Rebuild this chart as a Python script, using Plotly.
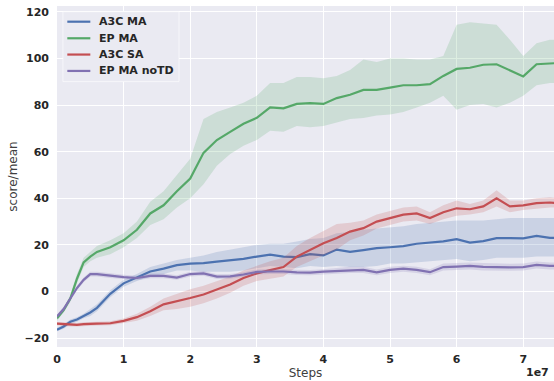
import plotly.graph_objects as go

# Steps (in units of 1e7)
steps_e7 = [0, 0.1, 0.2, 0.3, 0.4, 0.5, 0.6, 0.8, 1.0, 1.2, 1.4, 1.6, 1.8, 2.0, 2.2, 2.4, 2.6, 2.8,
            3.0, 3.2, 3.4, 3.6, 3.8, 4.0, 4.2, 4.4, 4.6, 4.8, 5.0, 5.2, 5.4, 5.6, 5.8, 6.0, 6.2,
            6.4, 6.6, 6.8, 7.0, 7.2, 7.4, 7.5]

a3c_ma_mean = [-16.4, -15, -13, -12, -10.5, -9, -7, -1, 3.5, 6, 8.6, 9.8, 11.3, 12, 12.2, 12.8, 13.3, 14,
               15, 15.8, 15, 14.8, 16, 15.5, 18, 17, 17.8, 18.6, 19, 19.5, 20.5, 21, 21.5, 22.5, 21,
               21.6, 22.9, 22.9, 22.8, 23.9, 23, 23]
a3c_ma_low = [-17, -16, -14, -13, -11.5, -10.5, -8.5, -2.5, 2, 4.5, 6.5, 7.5, 9, 9, 8.5, 8.5, 8.5, 9,
              10, 11, 10.5, 10, 11, 10.5, 11, 10.5, 10.5, 11, 12, 12, 12.5, 13, 13.5, 14, 13,
              13.5, 14.5, 14.5, 14.5, 15, 15, 15]
a3c_ma_high = [-15.5, -14, -12, -11, -9.5, -7.5, -5.5, 0.5, 5, 7.5, 10.5, 12, 13.5, 14.5, 15.5, 17, 18, 19,
               20, 20.5, 20.5, 21.5, 22.5, 23, 25, 25.5, 26.5, 27, 27.5, 28, 29, 29.5, 30, 30.5, 30.5,
               30.5, 31, 31.5, 31.5, 31.5, 31.5, 31.5]

ep_ma_mean = [-11.5, -8, -3, 5.5, 12.5, 15, 17, 19, 22, 26.5, 33.5, 37, 43, 48.5, 59.5, 65, 68.5, 72,
              74.5, 79, 78.6, 80.5, 80.8, 80.5, 83, 84.4, 86.5, 86.5, 87.5, 88.5, 88.5, 89, 92.5, 95.5, 96,
              97.3, 97.5, 95, 92.3, 97.5, 97.7, 98]
ep_ma_low = [-12.5, -9, -4.5, 3.5, 10.5, 13, 14.5, 16, 19, 23, 28.5, 31, 36, 40, 46, 54, 59, 62.5,
             65, 69, 68.5, 71, 70.5, 71, 72.5, 74, 74.5, 75.5, 76, 77, 79, 81, 84, 78, 80,
             80.5, 79, 81, 84, 88.5, 89.5, 89.5]
ep_ma_high = [-10.5, -7, -1.5, 7.5, 14.5, 17, 19.5, 22, 25, 30, 38.5, 43, 50, 57, 74, 77, 79, 81,
              84, 89.5, 89.5, 92, 92, 91.5, 92.5, 95, 99.5, 98.5, 100, 100, 99.5, 99.5, 101, 114.5, 115.5,
              115, 114.5, 108, 101, 106.5, 108, 108]

a3c_sa_mean = [-13.8, -14, -14.2, -14.3, -14, -14, -13.8, -13.6, -12.6, -11, -8.5, -5.5, -4.3, -2.8, -1.3, 0.7, 3, 5.8,
               7.8, 9.2, 10.5, 15, 18, 20.7, 23, 25.7, 27.2, 30, 31.5, 33, 33.5, 31.5, 34, 35.7, 35.3,
               36.5, 40, 36.5, 37, 37.9, 38.2, 38]
a3c_sa_low = [-14.5, -14.7, -15, -15, -14.8, -14.8, -14.6, -14.5, -13.6, -12.5, -10.5, -8, -7.5, -6.5, -5, -3, -0.5, 2.5,
              4.5, 5.5, 6.5, 10.5, 13, 15.5, 18, 22, 24, 27, 28.5, 30, 30.5, 29, 31, 32.5, 33,
              34, 36.5, 34, 35, 35.5, 36, 36]
a3c_sa_high = [-13.1, -13.3, -13.5, -13.5, -13.2, -13.2, -13, -12.7, -11.6, -9.5, -6.5, -3, -1, 1, 2.5, 4.5, 6.5, 9,
               11, 13, 14.5, 19.5, 23, 26, 29, 29.5, 30.5, 33, 34.5, 36, 36.5, 34, 37, 39, 37.5,
               39, 43.5, 39, 39, 40, 40.5, 40]

ep_ma_notd_mean = [-10.7, -7.5, -3, 1.5, 5, 7.5, 7.5, 6.8, 6.2, 5.8, 6.7, 6.7, 6, 7.5, 7.8, 6.4, 6.5, 7.3,
                   8.4, 8.6, 8.6, 8.2, 8.1, 8.5, 8.8, 9.3, 9.3, 8.2, 9.3, 9.8, 9.3, 8.3, 10.5, 10.7, 11,
                   10.6, 10.4, 10.4, 10.5, 11.4, 11, 11]
ep_ma_notd_low = [-11.5, -8.5, -4, 0.5, 4, 6.5, 6.5, 5.8, 5.2, 4.8, 5.7, 5.7, 5, 6.5, 6.8, 5.4, 5.5, 6.3,
                  7.3, 7.5, 7.5, 7.1, 7, 7.4, 7.6, 8, 8, 7, 8, 8.5, 8, 7, 9, 9.2, 9.5,
                  9, 8.9, 8.9, 9, 9.9, 9.5, 9.5]
ep_ma_notd_high = [-10, -6.5, -2, 2.5, 6, 8.5, 8.5, 7.8, 7.2, 6.8, 7.7, 7.7, 7, 8.5, 8.8, 7.4, 7.5, 8.3,
                   9.5, 9.7, 9.7, 9.3, 9.2, 9.6, 10, 10.6, 10.6, 9.4, 10.6, 11.1, 10.6, 9.6, 12, 12.2, 12.5,
                   12.2, 11.9, 11.9, 12, 12.9, 12.5, 12.5]

series_names = ["A3C MA", "EP MA", "A3C SA", "EP MA noTD"]
series_colors = ["#4c72b0", "#55a868", "#c44e52", "#8172b2"]
series_fills = ["rgba(76,114,176,0.2)", "rgba(85,168,104,0.2)", "rgba(196,78,82,0.2)", "rgba(129,114,178,0.2)"]
series_data = [
    (a3c_ma_mean, a3c_ma_low, a3c_ma_high),
    (ep_ma_mean, ep_ma_low, ep_ma_high),
    (a3c_sa_mean, a3c_sa_low, a3c_sa_high),
    (ep_ma_notd_mean, ep_ma_notd_low, ep_ma_notd_high),
]

x_tick_vals_e7 = [0, 1, 2, 3, 4, 5, 6, 7]
x_tick_text = ["0", "1", "2", "3", "4", "5", "6", "7"]
y_tick_vals = [-20, 0, 20, 40, 60, 80, 100, 120]

x = [v * 1e7 for v in steps_e7]

fig = go.Figure()
for name, color, fillc, (m, lo, hi) in zip(series_names, series_colors, series_fills, series_data):
    fig.add_trace(go.Scatter(
        x=x + x[::-1], y=hi + lo[::-1], fill="toself", fillcolor=fillc,
        line=dict(width=0, color="rgba(0,0,0,0)"), mode="lines", hoverinfo="skip", showlegend=False))
    fig.add_trace(go.Scatter(x=x, y=m, mode="lines", name=name,
                             line=dict(color=color, width=2.2), showlegend=False))

W, H = 554, 381
ML, MT, MB, MR = 57.4, 6, 33.7, 0
pw, ph = W - ML - MR, H - MT - MB


def px2paper(px, py):
    return (px - ML) / pw, (H - MB - py) / ph


# legend box
lx0, ly0 = px2paper(63.3, 11.7)
lx1, ly1 = px2paper(179.3, 81.7)
shapes = [dict(type="rect", xref="paper", yref="paper", x0=lx0, x1=lx1, y0=ly1, y1=ly0,
               fillcolor="#eaeaf2", line=dict(color="rgba(255,255,255,0.6)", width=1), layer="above")]
annotations = []
row_y = [21.7, 38.3, 54.6, 71.0]
for name, color, ry in zip(series_names, series_colors, row_y):
    a0, b0 = px2paper(67.7, ry)
    a1, _ = px2paper(90.7, ry)
    shapes.append(dict(type="line", xref="paper", yref="paper", x0=a0, x1=a1, y0=b0, y1=b0,
                       line=dict(color=color, width=2.2), layer="above"))
    tx, _ = px2paper(97.5, ry)
    annotations.append(dict(xref="paper", yref="paper", x=tx, y=b0, text=name, showarrow=False,
                            xanchor="left", yanchor="middle",
                            font=dict(family="DejaVu Sans", size=11, color="#262626", weight="bold")))

ex, ey = px2paper(524, 373)
annotations.append(dict(xref="paper", yref="paper", x=ex, y=ey, text="1e7", showarrow=False,
                        xanchor="left", yanchor="middle",
                        font=dict(family="DejaVu Sans", size=11, color="#262626", weight="bold")))

fig.update_layout(
    width=W, height=H,
    margin=dict(l=ML, r=MR, t=MT, b=MB, pad=0, autoexpand=False),
    paper_bgcolor="white", plot_bgcolor="#eaeaf2",
    shapes=shapes, annotations=annotations, showlegend=False,
    font=dict(family="DejaVu Sans", color="#262626"),
)
fig.update_xaxes(
    automargin=False,
    range=[0, (W - ML) / 66.55 * 1e7], tickvals=[v * 1e7 for v in x_tick_vals_e7], ticktext=x_tick_text,
    showgrid=True, gridcolor="white", gridwidth=1.3, zeroline=False, showline=False, ticks="",
    tickfont=dict(family="DejaVu Sans", size=11, color="#262626", weight="bold"), ticklabelstandoff=4,
    title=dict(text="Steps", font=dict(family="DejaVu Sans", size=12, color="#404040"), standoff=3),
)
fig.update_yaxes(
    automargin=False,
    range=[-23.8, 122.5], tickvals=y_tick_vals,
    showgrid=True, gridcolor="white", gridwidth=1.3, zeroline=False, showline=False, ticks="",
    tickfont=dict(family="DejaVu Sans", size=11, color="#262626", weight="bold"), ticklabelstandoff=7,
    title=dict(text="score/mean", font=dict(family="DejaVu Sans", size=12, color="#404040"), standoff=4),
)

fig.write_html("out.html", config={"displayModeBar": False},
               post_script="document.body.style.margin='0px';document.body.style.overflow='hidden';")
